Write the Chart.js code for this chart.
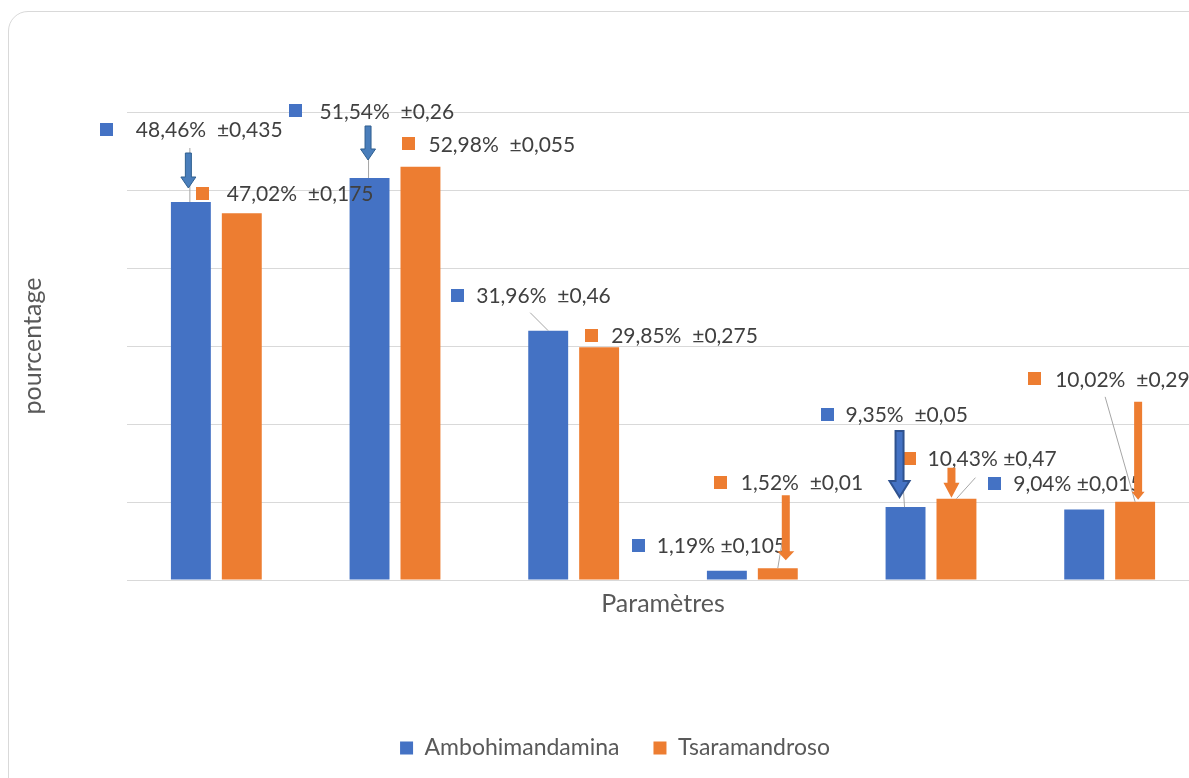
<!DOCTYPE html>
<html><head><meta charset="utf-8">
<script src="https://cdn.jsdelivr.net/npm/chart.js@4.4.0/dist/chart.umd.min.js"></script>
<style>
html,body{margin:0;padding:0;background:#fff;overflow:hidden;width:1189px;height:778px;}
#box{position:absolute;left:8px;top:11px;width:1214px;height:790px;border:1px solid #d9d9d9;border-radius:20px;}
#box canvas{position:absolute;left:0;top:0;}
</style></head><body>
<div id="box"><canvas id="c" width="1214" height="790"></canvas></div>
<script>
// ---- data ----
const categories = ['1', '2', '3', '4', '5', '6'];
const seriesNames = ['Ambohimandamina', 'Tsaramandroso'];
const ambohimandamina = [48.46, 51.54, 31.96, 1.19, 9.35, 9.04];
const tsaramandroso = [47.02, 52.98, 29.85, 1.52, 10.43, 10.02];
const errAmbohimandamina = ['0,435', '0,26', '0,46', '0,105', '0,05', '0,015'];
const errTsaramandroso = ['0,175', '0,055', '0,275', '0,01', '0,47', '0,29'];
const labelGapAmbo = ['  ', '  ', '  ', ' ', '  ', ' '];
const labelGapTsara = ['  ', '  ', '  ', '  ', ' ', '  '];
const yTicks = [0, 10, 20, 30, 40, 50, 60];

const blue = '#4472c4', orange = '#ed7d31';
const FONT = 'Lato';

// ---- label / annotation layout (offsets from bar top-centre) ----
// [markerLeftDx, markerCentreDy, textStartFromMarker]
const labelLayout = [
  [[-91,-73,36],[-81,-67,31],[-97,-35,25],[-95,-25,25],[-85,-93,25],[-96,-26,25]],
  [[-46,-20,31],[-18,-23,26],[-14,-12,26],[-64,-86,27],[-53,-40,24],[-107,-123,27]]
];
// [dataset, index, x1, y1, x2, y2]
const leaders = [
  [0,0,-1,-54,-1,0],[0,1,-1,-50,-1,0],[0,2,-18,-18,0,0],[0,4,-6,-75,-1,0],
  [1,3,11,-66,0,0],[1,4,19,-21,0,0],[1,5,-30,-105,0,0]
];
// [dataset, index, dx, tailDy, tipDy, shaftW, headW, headL, fill, stroke, lw]
const arrows = [
  [0,0,-2.5,-49,-14,6,15,11,'#4a7ebb','#2f5f8f',1],
  [0,1,-1.5,-52,-18,6,15,11,'#4a7ebb','#2f5f8f',1],
  [0,4,-6,-76,-10,8,20,16,'#4472c4','#2f528f',2],
  [1,3,8,-73,-8,8,17,9,orange,orange,0],
  [1,4,-5,-31,-1,8,16,15,orange,orange,0],
  [1,5,3,-100,-2,8,13,8,orange,orange,0]
];

function fmt(v){ return v.toFixed(2).replace('.', ',') + '%'; }

const annotPlugin = {
  id: 'annot',
  afterDatasetsDraw(chart) {
    const ctx = chart.ctx;
    const vals = [ambohimandamina, tsaramandroso];
    const errs = [errAmbohimandamina, errTsaramandroso];
    const gaps = [labelGapAmbo, labelGapTsara];
    const cols = [blue, orange];
    const bar = (d, i) => chart.getDatasetMeta(d).data[i];
    ctx.save();
    // labels
    ctx.font = '21px ' + FONT;
    ctx.textBaseline = 'middle';
    ctx.textAlign = 'left';
    for (let d = 0; d < 2; d++) {
      for (let i = 0; i < vals[d].length; i++) {
        const b = bar(d, i);
        const [mx, my, tx] = labelLayout[d][i];
        const x = b.x + mx, y = b.y + my;
        ctx.fillStyle = cols[d];
        ctx.fillRect(Math.round(x), Math.round(y - 6.5), 13, 13);
        ctx.fillStyle = '#404040';
        ctx.fillText(fmt(vals[d][i]) + gaps[d][i] + '±' + errs[d][i], x + tx, y + 1);
      }
    }
    // leader lines
    ctx.strokeStyle = '#a6a6a6';
    ctx.lineWidth = 1;
    leaders.forEach(([d, i, x1, y1, x2, y2]) => {
      const b = bar(d, i);
      ctx.beginPath();
      ctx.moveTo(b.x + x1, b.y + y1);
      ctx.lineTo(b.x + x2, b.y + y2);
      ctx.stroke();
    });
    // arrows
    arrows.forEach(([d, i, dx, t, p, sw, hw, hl, fill, stroke, lw]) => {
      const b = bar(d, i);
      const x = b.x + dx, ty = b.y + t, py = b.y + p, hy = py - hl;
      ctx.beginPath();
      ctx.moveTo(x - sw/2, ty);
      ctx.lineTo(x + sw/2, ty);
      ctx.lineTo(x + sw/2, hy);
      ctx.lineTo(x + hw/2, hy);
      ctx.lineTo(x, py);
      ctx.lineTo(x - hw/2, hy);
      ctx.lineTo(x - sw/2, hy);
      ctx.closePath();
      ctx.fillStyle = fill;
      ctx.fill();
      if (lw > 0) { ctx.strokeStyle = stroke; ctx.lineWidth = lw; ctx.stroke(); }
    });
    ctx.restore();
  }
};

new Chart(document.getElementById('c'), {
  type: 'bar',
  data: {
    labels: categories,
    datasets: [
      { label: seriesNames[0], data: ambohimandamina, backgroundColor: blue, borderWidth: 0 },
      { label: seriesNames[1], data: tsaramandroso, backgroundColor: orange, borderWidth: 0 }
    ]
  },
  options: {
    responsive: false,
    animation: false,
    events: [],
    datasets: { bar: { categoryPercentage: 0.57, barPercentage: 0.784 } },
    layout: { padding: { left: 22, right: 24, top: 100, bottom: 32.5 } },
    plugins: {
      tooltip: { enabled: false },
      legend: {
        position: 'bottom',
        labels: {
          boxWidth: 13, boxHeight: 13, padding: 34, color: '#595959',
          font: { family: FONT, size: 23 }
        }
      }
    },
    scales: {
      x: {
        ticks: { display: false },
        grid: { display: false },
        border: { display: false },
        title: { display: true, text: 'Paramètres', color: '#595959',
                 font: { family: FONT, size: 25 }, padding: { top: 0, bottom: 83.5 } },
        afterFit: s => { s.height = 122.5; }
      },
      y: {
        min: 0, max: 60,
        afterBuildTicks: s => { s.ticks = yTicks.map(v => ({ value: v })); },
        ticks: { display: false },
        grid: { color: '#d9d9d9', lineWidth: 1, drawTicks: false },
        border: { display: false },
        title: { display: true, text: 'pourcentage', color: '#595959',
                 font: { family: FONT, size: 25 }, padding: { top: -13, bottom: 0 } },
        afterFit: s => { s.width = 96; }
      }
    }
  },
  plugins: [annotPlugin]
});
</script>
</body></html>
